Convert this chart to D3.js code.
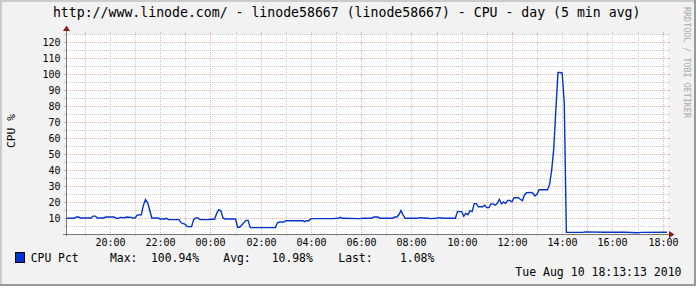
<!DOCTYPE html>
<meta charset="utf-8">
<script src="https://d3js.org/d3.v7.min.js"></script>
<style>
  body { margin: 0; background: #fff; }
  text { font-family: "DejaVu Sans Mono", monospace; fill: #000; }
</style>
<div id="graph"></div>
<script>
  // graph window: one day ending at the time of the snapshot
  var startTime = new Date(2010, 7, 9, 18, 13, 13),
      endTime = new Date(2010, 7, 10, 18, 13, 13);

  // 5 min averages (times before 18:13 are on Aug 10)
  var sampleTimes = [
    "18:15", "18:35", "18:40", "18:45", "18:50", "19:15", "19:20", "19:25", "19:30", "19:45",
    "19:50", "20:10", "20:15", "20:20", "20:25", "20:35", "20:40", "20:50", "20:55", "21:00",
    "21:05", "21:15", "21:20", "21:25", "21:30", "21:35", "21:40", "21:55", "22:00", "22:10",
    "22:15", "22:20", "22:45", "22:50", "23:00", "23:05", "23:15", "23:20", "23:25", "23:30",
    "23:35", "23:55", "00:00", "00:10", "00:15", "00:20", "00:25", "00:30", "00:35", "01:00",
    "01:05", "01:10", "01:25", "01:30", "01:35", "02:35", "02:40", "02:45", "02:55", "03:00",
    "03:40", "03:45", "03:50", "03:55", "04:00", "04:50", "05:05", "05:10", "05:15", "05:55",
    "06:05", "06:25", "06:30", "06:40", "06:45", "07:15", "07:20", "07:25", "07:30", "07:35",
    "07:40", "07:45", "08:15", "08:20", "08:40", "08:45", "09:00", "09:05", "09:20", "09:45",
    "09:50", "10:00", "10:05", "10:10", "10:15", "10:20", "10:25", "10:30", "10:35", "10:40",
    "10:50", "10:55", "11:00", "11:05", "11:10", "11:15", "11:20", "11:25", "11:30", "11:35",
    "11:40", "11:45", "11:50", "11:55", "12:00", "12:05", "12:15", "12:20", "12:25", "12:30",
    "12:35", "12:45", "12:50", "12:55", "13:00", "13:05", "13:25", "13:30", "13:35", "13:40",
    "13:45", "13:50", "13:55", "14:00", "14:05", "14:10", "14:50", "14:55", "15:40", "16:30",
    "17:00", "17:10", "18:10"
  ];
  var cpuPct = [
    9.8, 9.8, 10.6, 10.6, 10, 10, 11.2, 11.2, 10, 10,
    10.6, 10.6, 9.8, 9.8, 10.4, 10.2, 10.6, 10.4, 10, 10,
    11.8, 12, 18, 21.5, 19.5, 15, 10, 10, 9.4, 9.4,
    9.8, 9, 9, 7, 6, 4.6, 4.6, 9, 10, 10,
    9, 9, 9.2, 9.2, 13, 15.2, 14.5, 10, 9.4, 9.4,
    4.2, 4.2, 8.5, 8.5, 4, 4, 7, 7.5, 7.5, 8.3,
    8.3, 7.7, 8.3, 8.3, 9.6, 9.6, 9.8, 10.4, 9.8, 9.6,
    9.8, 9.8, 10.6, 10.6, 9.8, 9.8, 10.6, 10.6, 12, 14.6,
    12, 9.8, 9.8, 10.2, 9.8, 9.6, 9.8, 10.2, 9.8, 9.8,
    14, 14, 11, 13, 12, 14.6, 14, 19, 19, 17,
    17, 18, 16.5, 16.5, 18.8, 18.8, 18, 19, 21.7, 18.8,
    20, 19, 21, 21, 20, 22.7, 22.7, 21.7, 20.8, 24.4,
    25.8, 26, 25.5, 23.8, 25, 27.7, 27.7, 31, 40, 53.5,
    78, 100.9, 100.9, 100.6, 82, 1, 1, 1.3, 1.1, 1.1,
    0.8, 1, 1.08
  ];

  var yTicks = [10, 20, 30, 40, 50, 60, 70, 80, 90, 100, 110, 120];
  var titleText = "http://www.linode.com/ - linode58667 (linode58667) - CPU - day (5 min avg)";
  var unitText = "CPU %";
  var legendTexts = ["CPU Pct", "Max:", "100.94%", "Avg:", "10.98%", "Last:", "1.08%"];
  var stampText = "Tue Aug 10 18:13:13 2010";
  var watermarkText = "RRDTOOL / TOBI OETIKER";

  var lineColor = "#0033cc",
      gridColor = "#cccccc",
      mgridColor = "#eeb0b0",
      axisColor = "#777777",
      arrowColor = "#8a1c1c";

  var X0 = 66, X1 = 668, Y0 = 234, Y1 = 34;

  var svg = d3.select("#graph")
    .append("svg")
    .attr("width", 697)
    .attr("height", 288);

  // background + 3d frame
  svg.append("rect").attr("width", 696).attr("height", 286).attr("fill", "#f2f2f2");
  svg.append("rect").attr("width", 696).attr("height", 2).attr("fill", "#cbcbcb");
  svg.append("rect").attr("width", 2).attr("height", 286).attr("fill", "#cbcbcb");
  svg.append("rect").attr("y", 284).attr("width", 696).attr("height", 2).attr("fill", "#999999");
  svg.append("rect").attr("x", 694).attr("width", 2).attr("height", 286).attr("fill", "#999999");

  // canvas
  svg.append("rect")
    .attr("x", X0).attr("y", Y1)
    .attr("width", X1 - X0).attr("height", Y0 - Y1)
    .attr("fill", "#ffffff");

  var x = d3.scaleTime().domain([startTime, endTime]).range([65.2, 668.2]);
  var y = d3.scaleLinear().domain([0, 125]).range([Y0, Y1]);

  function crisp(v) { return Math.round(v) + 0.5; }

  // horizontal grid, minor every 5, major on the labels
  var hGrid = d3.range(5, 126, 5).map(function (v) {
    return { y: crisp(y(v)), major: yTicks.indexOf(v) >= 0 };
  });
  var hg = svg.append("g").attr("shape-rendering", "crispEdges");
  hg.selectAll(".hdash").data(hGrid).enter().append("line")
    .attr("x1", X0).attr("x2", X1)
    .attr("y1", function (d) { return d.y; }).attr("y2", function (d) { return d.y; })
    .attr("stroke", function (d) { return d.major ? mgridColor : gridColor; })
    .attr("stroke-dasharray", "1,1");
  hg.selectAll(".htickl").data(hGrid).enter().append("line")
    .attr("x1", X0 - 2).attr("x2", X0)
    .attr("y1", function (d) { return d.y; }).attr("y2", function (d) { return d.y; })
    .attr("stroke", function (d) { return d.major ? mgridColor : gridColor; });
  hg.selectAll(".htickr").data(hGrid).enter().append("line")
    .attr("x1", X1).attr("x2", X1 + 2)
    .attr("y1", function (d) { return d.y; }).attr("y2", function (d) { return d.y; })
    .attr("stroke", function (d) { return d.major ? mgridColor : gridColor; });

  // vertical grid, every hour, major every 6 hours
  var hours = d3.timeHour.range(d3.timeHour.ceil(startTime), endTime);
  var vGrid = hours.map(function (h) {
    return { x: crisp(x(h)), major: h.getHours() % 6 === 0 };
  });
  var vg = svg.append("g").attr("shape-rendering", "crispEdges");
  vg.selectAll(".vdash").data(vGrid).enter().append("line")
    .attr("x1", function (d) { return d.x; }).attr("x2", function (d) { return d.x; })
    .attr("y1", Y1).attr("y2", Y0)
    .attr("stroke", function (d) { return d.major ? mgridColor : gridColor; })
    .attr("stroke-dasharray", "1,1");
  vg.selectAll(".vtickb").data(vGrid).enter().append("line")
    .attr("x1", function (d) { return d.x; }).attr("x2", function (d) { return d.x; })
    .attr("y1", Y0).attr("y2", Y0 + 2)
    .attr("stroke", function (d) { return d.major ? mgridColor : gridColor; });
  vg.selectAll(".vtickt").data(vGrid).enter().append("line")
    .attr("x1", function (d) { return d.x; }).attr("x2", function (d) { return d.x; })
    .attr("y1", Y1 - 2).attr("y2", Y1)
    .attr("stroke", function (d) { return d.major ? mgridColor : gridColor; });

  // y labels
  svg.append("g").selectAll("text").data(yTicks).enter().append("text")
    .attr("x", 60.5)
    .attr("y", function (d) { return crisp(y(d)); })
    .attr("dy", "0.36em")
    .attr("text-anchor", "end")
    .style("font-size", "10px")
    .text(function (d) { return d; });

  // x labels every 2 hours
  var fmt = d3.timeFormat("%H:%M");
  svg.append("g").selectAll("text")
    .data(hours.filter(function (h) { return h.getHours() % 2 === 0; }))
    .enter().append("text")
    .attr("x", function (d) { return crisp(x(d)); })
    .attr("y", 245.7)
    .attr("text-anchor", "middle")
    .style("font-size", "10px")
    .text(function (d) { return fmt(d); });

  // the data line
  var parse = d3.timeParse("%Y-%m-%d %H:%M");
  var data = sampleTimes.map(function (t, i) {
    var day = t >= "18:13" ? "2010-08-09 " : "2010-08-10 ";
    return { t: parse(day + t), v: cpuPct[i] };
  });
  svg.append("path")
    .datum(data)
    .attr("fill", "none")
    .attr("stroke", lineColor)
    .attr("stroke-width", 1.4)
    .attr("stroke-linejoin", "miter")
    .attr("d", d3.line()
      .x(function (d) { return x(d.t); })
      .y(function (d) { return y(d.v); }));

  // axes + arrows
  var ax = svg.append("g").attr("shape-rendering", "crispEdges").attr("stroke", axisColor);
  ax.append("line").attr("x1", X0 + 0.5).attr("x2", X0 + 0.5).attr("y1", Y0 + 2).attr("y2", 30);
  ax.append("line").attr("x1", X0 - 3).attr("x2", 670).attr("y1", Y0 + 0.5).attr("y2", Y0 + 0.5);
  svg.append("path")
    .attr("d", "M" + (X0 - 3) + ",31 L" + (X0 + 0.5) + ",25.5 L" + (X0 + 4) + ",31 Z")
    .attr("fill", arrowColor);
  svg.append("path")
    .attr("d", "M669," + (Y0 - 3) + " L674.5," + (Y0 + 0.5) + " L669," + (Y0 + 4) + " Z")
    .attr("fill", arrowColor);

  // title
  svg.append("text")
    .attr("x", 346.7).attr("y", 17)
    .attr("text-anchor", "middle")
    .style("font-size", "13.2px")
    .text(titleText);

  // unit label
  svg.append("text")
    .attr("transform", "translate(15,131) rotate(-90)")
    .attr("text-anchor", "middle")
    .style("font-size", "11.3px")
    .text(unitText);

  // watermark
  svg.append("text")
    .attr("transform", "translate(684,7) rotate(90)")
    .style("font-size", "8.4px")
    .style("fill", "#a8a8a8")
    .text(watermarkText);

  // legend
  svg.append("rect")
    .attr("x", 15.5).attr("y", 252.5)
    .attr("width", 9).attr("height", 10)
    .attr("fill", lineColor)
    .attr("stroke", "#000");
  var legendX = [30.7, 110, 151, 223.3, 271.7, 338.3, 400];
  svg.append("g").selectAll("text").data(legendTexts).enter().append("text")
    .attr("x", function (d, i) { return legendX[i]; })
    .attr("y", 261.6)
    .style("font-size", "11.4px")
    .text(function (d) { return d; });

  svg.append("text")
    .attr("x", 681.5).attr("y", 275.7)
    .attr("text-anchor", "end")
    .style("font-size", "11.5px")
    .text(stampText);
</script>
